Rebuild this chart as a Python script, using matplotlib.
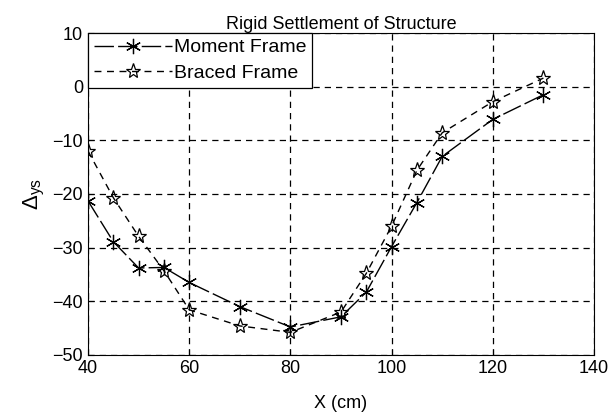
import matplotlib.pyplot as plt

plt.rcParams['font.family'] = 'Liberation Sans'
plt.rcParams['mathtext.fontset'] = 'custom'
plt.rcParams['mathtext.rm'] = 'Liberation Sans'
plt.rcParams['mathtext.it'] = 'Liberation Sans:italic'

x = [40, 45, 50, 55, 60, 70, 80, 90, 95, 100, 105, 110, 120, 130]
moment = [-21.3, -28.9, -33.8, -33.7, -36.5, -41.0, -44.8, -42.9, -38.3, -29.8, -21.6, -13.0, -6.1, -1.5]
braced = [-12.0, -20.7, -27.9, -34.3, -41.6, -44.6, -45.8, -42.0, -34.8, -26.0, -15.6, -8.6, -2.8, 1.6]

fig = plt.figure(figsize=(6.13, 4.18), dpi=100)
ax = fig.add_axes([0.1436, 0.151, 0.8254, 0.77])

ax.plot(x, moment, color='black', linewidth=1.0, dashes=(14, 3),
        marker=(6, 2, 0), markersize=11, markeredgewidth=0.9, label='Moment Frame')
ax.plot(x, braced, color='black', linewidth=1.0, dashes=(5, 4),
        marker='*', markersize=11, markerfacecolor='none', markeredgewidth=0.9,
        label='Braced Frame')

ax.set_xlim(40, 140)
ax.set_ylim(-50, 10)
ax.set_xticks(range(40, 141, 20))
ax.set_yticks(range(-50, 11, 10))
ax.tick_params(direction='in', labelsize=13, length=4)
ax.grid(True, color='black', linestyle=(0, (5, 4)), linewidth=0.9)

ax.set_title('Rigid Settlement of Structure', fontsize=13, pad=2)
ax.set_xlabel('X (cm)', fontsize=13, labelpad=13)
ax.set_ylabel(r'$\Delta_{\mathrm{ys}}$', fontsize=16, labelpad=4)

leg = ax.legend(loc='upper left', fontsize=14, fancybox=False, framealpha=1,
                edgecolor='black', borderaxespad=0, handlelength=4.0,
                handletextpad=0.1, borderpad=0.3, labelspacing=0.4)
leg.get_frame().set_linewidth(0.9)

fig.savefig('out.png', dpi=100)
plt.close()
